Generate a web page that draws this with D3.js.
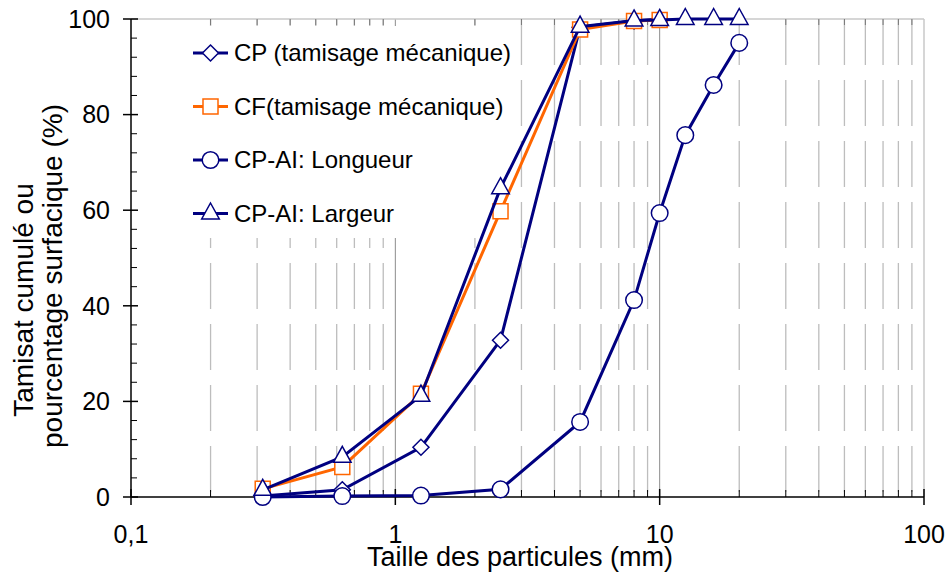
<!DOCTYPE html>
<html>
<head>
<meta charset="utf-8">
<script src="https://cdn.jsdelivr.net/npm/d3@7.9.0/dist/d3.min.js"></script>
<style>
  body { margin: 0; background: #fff; }
  svg text { font-family: "Liberation Sans", Arial, sans-serif; fill: #000; }
</style>
</head>
<body>
<svg id="chart" width="948" height="574"></svg>
<script>
// ================================
// Data
// ================================
const sizes = [0.315, 0.63, 1.25, 2.5, 5, 8, 10, 12.5, 16, 20];
const cpMeca = [0.2, 1.5, 10.4, 32.8, 98.3, 99.6, 100];
const cfMeca = [1.7, 6.3, 21.6, 59.8, 97.8, 99.6, 99.8];
const cpLongueur = [0, 0.2, 0.3, 1.6, 15.7, 41.2, 59.4, 75.7, 86.2, 95];
const cpLargeur = [1.5, 8.4, 21.2, 64.6, 98.4, 99.7, 99.8, 100, 100, 100];
const seriesNames = ["CP (tamisage mécanique)", "CF(tamisage mécanique)", "CP-AI: Longueur", "CP-AI: Largeur"];
const xTicks = [0.1, 1, 10, 100];
const yTicks = [0, 20, 40, 60, 80, 100];

const navy = "#000080";
const orange = "#ff6600";

const series = [
  { name: seriesNames[0], values: cpMeca, color: navy, marker: "diamond" },
  { name: seriesNames[1], values: cfMeca, color: orange, marker: "square" },
  { name: seriesNames[2], values: cpLongueur, color: navy, marker: "circle" },
  { name: seriesNames[3], values: cpLargeur, color: navy, marker: "triangle" },
];

const svg = d3.select("#chart");
const pLeft = 131, pRight = 924, pTop = 19, pBottom = 497;

const x = d3.scaleLog().domain([0.1, 100]).range([pLeft, pRight]);
const y = d3.scaleLinear().domain([0, 100]).range([pBottom, pTop]);
const fr = d3.formatLocale({ decimal: ",", thousands: " ", grouping: [3], currency: ["", " €"] });
const fmt = (d) => (d < 1 ? fr.format(".1f")(d) : String(d));

// minor positions on the log axis
const minors = [];
[0.1, 1, 10].forEach((dec) => {
  for (let k = 2; k <= 9; k++) minors.push(dec * k);
});

// ================================
// Grid + frame
// ================================
svg.append("g")
  .selectAll("line")
  .data(minors)
  .join("line")
  .attr("x1", (d) => x(d)).attr("x2", (d) => x(d))
  .attr("y1", pTop).attr("y2", pBottom)
  .attr("stroke", "#bdbdbd")
  .attr("stroke-width", 1.3)
  .attr("stroke-dasharray", "46,15");

svg.append("g")
  .selectAll("line")
  .data([1, 10])
  .join("line")
  .attr("x1", (d) => x(d)).attr("x2", (d) => x(d))
  .attr("y1", pTop).attr("y2", pBottom)
  .attr("stroke", "#8c8c8c")
  .attr("stroke-width", 1);

// top and right frame
svg.append("line").attr("x1", pLeft).attr("x2", pRight).attr("y1", pTop).attr("y2", pTop)
  .attr("stroke", "#c8c8c8").attr("stroke-width", 1.5);
svg.append("line").attr("x1", pRight).attr("x2", pRight).attr("y1", pTop).attr("y2", pBottom)
  .attr("stroke", "#c8c8c8").attr("stroke-width", 1.5);

// top minor ticks
svg.append("g")
  .selectAll("line")
  .data(minors)
  .join("line")
  .attr("x1", (d) => x(d)).attr("x2", (d) => x(d))
  .attr("y1", pTop).attr("y2", pTop + 6)
  .attr("stroke", "#777");

// legend background hides the grid
svg.append("rect")
  .attr("x", pLeft + 1).attr("y", pTop + 7)
  .attr("width", 386).attr("height", 212)
  .attr("fill", "#fff");

// ================================
// Axes
// ================================
const xAxis = svg.append("g").attr("transform", `translate(0,${pBottom})`);
xAxis.append("line").attr("x1", pLeft).attr("x2", pRight).attr("stroke", "#000").attr("stroke-width", 1.5);
xAxis.selectAll(".minor").data(minors).join("line")
  .attr("class", "minor")
  .attr("x1", (d) => x(d)).attr("x2", (d) => x(d))
  .attr("y1", 0).attr("y2", -7)
  .attr("stroke", "#000");
xAxis.selectAll(".major").data(xTicks).join("line")
  .attr("class", "major")
  .attr("x1", (d) => x(d)).attr("x2", (d) => x(d))
  .attr("y1", -8).attr("y2", 8)
  .attr("stroke", "#000").attr("stroke-width", 1.5);
xAxis.selectAll("text").data(xTicks).join("text")
  .attr("x", (d) => x(d)).attr("y", 46)
  .attr("text-anchor", "middle")
  .style("font-size", "25px")
  .text(fmt);

const yAxis = svg.append("g").attr("transform", `translate(${pLeft},0)`);
yAxis.append("line").attr("y1", pTop).attr("y2", pBottom).attr("stroke", "#000").attr("stroke-width", 1.5);
yAxis.selectAll(".minor").data(d3.range(0, 100, 4).filter((v) => v % 20 !== 0)).join("line")
  .attr("class", "minor")
  .attr("y1", (d) => y(d)).attr("y2", (d) => y(d))
  .attr("x1", 0).attr("x2", 6)
  .attr("stroke", "#000");
yAxis.selectAll(".major").data(yTicks).join("line")
  .attr("class", "major")
  .attr("y1", (d) => y(d)).attr("y2", (d) => y(d))
  .attr("x1", -8).attr("x2", 7)
  .attr("stroke", "#000").attr("stroke-width", 1.5);
yAxis.selectAll("text").data(yTicks).join("text")
  .attr("x", -21).attr("y", (d) => y(d))
  .attr("dy", "0.35em")
  .attr("text-anchor", "end")
  .style("font-size", "25px")
  .text((d) => d);

// axis titles
svg.append("text")
  .attr("x", 520).attr("y", 566)
  .attr("text-anchor", "middle")
  .style("font-size", "27px")
  .text("Taille des particules (mm)");

svg.append("text")
  .attr("transform", "translate(33,300) rotate(-90)")
  .attr("text-anchor", "middle")
  .style("font-size", "28px")
  .text("Tamisat cumulé ou");
svg.append("text")
  .attr("transform", "translate(62,276) rotate(-90)")
  .attr("text-anchor", "middle")
  .style("font-size", "28px")
  .text("pourcentage surfacique (%)");

// ================================
// Markers
// ================================
function markerPath(kind) {
  if (kind === "diamond") return "M0,-8L8,0L0,8L-8,0Z";
  if (kind === "square") return "M-7.5,-7.5H7.5V7.5H-7.5Z";
  if (kind === "triangle") return "M0,-10.5L8.8,5.5H-8.8Z";
  return d3.symbol().type(d3.symbolCircle).size(Math.PI * 8.3 * 8.3)();
}

// ================================
// Series
// ================================
const line = d3.line().x((d) => x(d[0])).y((d) => y(d[1]));

series.forEach((s) => {
  const pts = s.values.map((v, i) => [sizes[i], v]);
  const g = svg.append("g");
  g.append("path")
    .attr("d", line(pts))
    .attr("fill", "none")
    .attr("stroke", s.color)
    .attr("stroke-width", 3);
  g.selectAll("path.mk").data(pts).join("path")
    .attr("class", "mk")
    .attr("d", markerPath(s.marker))
    .attr("transform", (d) => `translate(${x(d[0])},${y(d[1])})`)
    .attr("fill", "#fff")
    .attr("stroke", s.color)
    .attr("stroke-width", 1.5);
});

// ================================
// Legend
// ================================
const legend = svg.append("g");
series.forEach((s, i) => {
  const ly = 53 + i * 53.5;
  legend.append("line")
    .attr("x1", 193).attr("x2", 228).attr("y1", ly).attr("y2", ly)
    .attr("stroke", s.color).attr("stroke-width", 3);
  legend.append("path")
    .attr("d", markerPath(s.marker))
    .attr("transform", `translate(210.5,${ly})`)
    .attr("fill", "#fff").attr("stroke", s.color).attr("stroke-width", 1.5);
  legend.append("text")
    .attr("x", 234).attr("y", ly).attr("dy", "0.35em")
    .style("font-size", "24px")
    .text(s.name);
});
</script>
</body>
</html>
